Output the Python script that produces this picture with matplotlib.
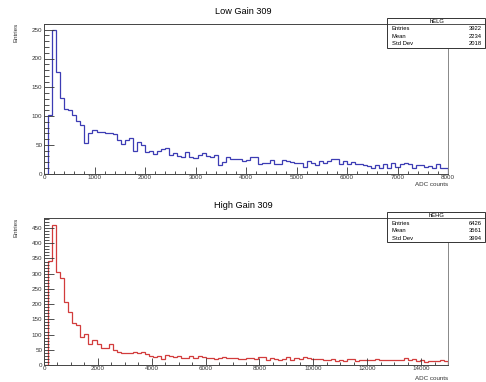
import numpy as np
import matplotlib
matplotlib.use("Agg")
import matplotlib.pyplot as plt
from matplotlib.patches import Rectangle
from matplotlib.ticker import MultipleLocator

plt.rcParams['font.family'] = ['Liberation Sans', 'DejaVu Sans']

# low gain histogram: 100 bins of 80 ADC counts, 0..8000
lg_counts = [0, 102, 249, 177, 131, 113, 110, 101, 92, 84,
             53, 70, 76, 73, 72, 70, 71, 69, 59, 51,
             59, 62, 40, 55, 50, 38, 39, 34, 40, 42,
             44, 33, 35, 30, 28, 37, 28, 27, 32, 35,
             30, 28, 33, 15, 20, 28, 26, 26, 26, 21,
             24, 29, 29, 17, 18, 19, 24, 16, 17, 23,
             21, 20, 18, 18, 11, 22, 18, 15, 21, 18,
             21, 26, 26, 17, 22, 16, 20, 17, 17, 15,
             13, 9, 14, 10, 16, 10, 18, 12, 17, 19,
             16, 10, 15, 14, 12, 13, 10, 16, 9, 9]
lg_range = (0, 8000)

# high gain histogram: 100 bins of 150 ADC counts, 0..15000
hg_counts = [0, 342, 460, 304, 286, 207, 173, 139, 130, 92,
             103, 68, 83, 69, 55, 55, 69, 49, 43, 41,
             39, 39, 42, 38, 44, 35, 29, 27, 30, 20,
             32, 31, 26, 28, 23, 22, 31, 24, 28, 26,
             22, 24, 20, 24, 26, 24, 23, 22, 21, 20,
             22, 24, 19, 25, 26, 16, 23, 19, 17, 20,
             25, 18, 23, 19, 26, 22, 21, 20, 19, 18,
             16, 20, 14, 16, 12, 20, 20, 13, 15, 18,
             16, 16, 21, 18, 16, 17, 15, 15, 18, 24,
             15, 21, 14, 16, 11, 12, 12, 14, 15, 13]
hg_range = (0, 15000)

titles = ["Low Gain 309", "High Gain 309"]
stat_names = ["hELG", "hEHG"]
stat_labels = ["Entries", "Mean", "Std Dev"]
lg_stats = ["3922", "2234", "2018"]
hg_stats = ["6426", "3561", "3994"]

W, H = 486, 382
fig = plt.figure(figsize=(W / 100, H / 100), dpi=100)

def fx(px):
    return px / W

def fy(py):
    return 1 - py / H

panels = [
    dict(counts=lg_counts, rng=lg_range, color='#3c3cb4', top=24, bot=173.5,
         ymax=260, ymaj=50, ymin=10, xmaj=1000, xmin=200, title_y=12,
         stats=lg_stats, name=stat_names[0], box=(18.3, 47.7), rows=(28, 36.7, 43.7),
         head_y=21.3, xlab_y=184),
    dict(counts=hg_counts, rng=hg_range, color='#d23c3c', top=218.3, bot=365,
         ymax=482, ymaj=50, ymin=10, xmaj=2000, xmin=500, title_y=206,
         stats=hg_stats, name=stat_names[1], box=(212.3, 242.3), rows=(223.3, 231, 238.3),
         head_y=215.7, xlab_y=378.5),
]

for i, p in enumerate(panels):
    ax = fig.add_axes([fx(44), fy(p['bot']), fx(448 - 44), (p['bot'] - p['top']) / H])
    n = len(p['counts'])
    edges = np.linspace(p['rng'][0], p['rng'][1], n + 1)
    ax.stairs(p['counts'], edges, color=p['color'], lw=0.9)
    ax.set_xlim(*p['rng'])
    ax.set_ylim(0, p['ymax'])
    ax.xaxis.set_major_locator(MultipleLocator(p['xmaj']))
    ax.xaxis.set_minor_locator(MultipleLocator(p['xmin']))
    ax.yaxis.set_major_locator(MultipleLocator(p['ymaj']))
    ax.yaxis.set_minor_locator(MultipleLocator(p['ymin']))
    ax.tick_params(which='both', direction='in', labelsize=4.5, colors='#333333',
                   width=0.6, pad=1.2)
    ax.tick_params(axis='x', which='both', pad=0.8)
    ax.tick_params(axis='y', which='major', length=7)
    ax.tick_params(axis='y', which='minor', length=3.5)
    ax.tick_params(axis='x', which='major', length=5)
    ax.tick_params(axis='x', which='minor', length=2.5)
    for s in ax.spines.values():
        s.set_linewidth(0.7)
        s.set_color('#444444')
    ax.spines['right'].set_color('#888888')

    fig.text(0.5, fy(p['title_y']), titles[i], ha='center', va='center', fontsize=6.6)
    fig.text(fx(16), fy(p['top'] - 1), "Entries", rotation=90, ha='center', va='top',
             fontsize=4.5, color='#333333')
    fig.text(fx(448), fy(p['xlab_y']), "ADC counts", ha='right', va='center',
             fontsize=4.5, color='#333333')

    # stats box
    b0, b1 = p['box']
    fig.patches.append(Rectangle((fx(387.3), fy(b1)), 1 - fx(387.3) - 0.002,
                                 (b1 - b0) / H, transform=fig.transFigure,
                                 facecolor='white', edgecolor='#333333', lw=0.7,
                                 zorder=5))
    fig.lines.append(plt.Line2D([fx(387.3), 0.998], [fy(p['top']), fy(p['top'])],
                                transform=fig.transFigure, color='#333333', lw=0.6,
                                zorder=6))
    fig.text(fx(436.7), fy(p['head_y']), p['name'], ha='center', va='center',
             fontsize=4.2, zorder=7)
    for lab, val, ry in zip(stat_labels, p['stats'], p['rows']):
        fig.text(fx(391.7), fy(ry), lab, ha='left', va='center', fontsize=4.2, zorder=7)
        fig.text(fx(481.7), fy(ry), val, ha='right', va='center', fontsize=4.2, zorder=7)

fig.savefig("out.png", dpi=100)
